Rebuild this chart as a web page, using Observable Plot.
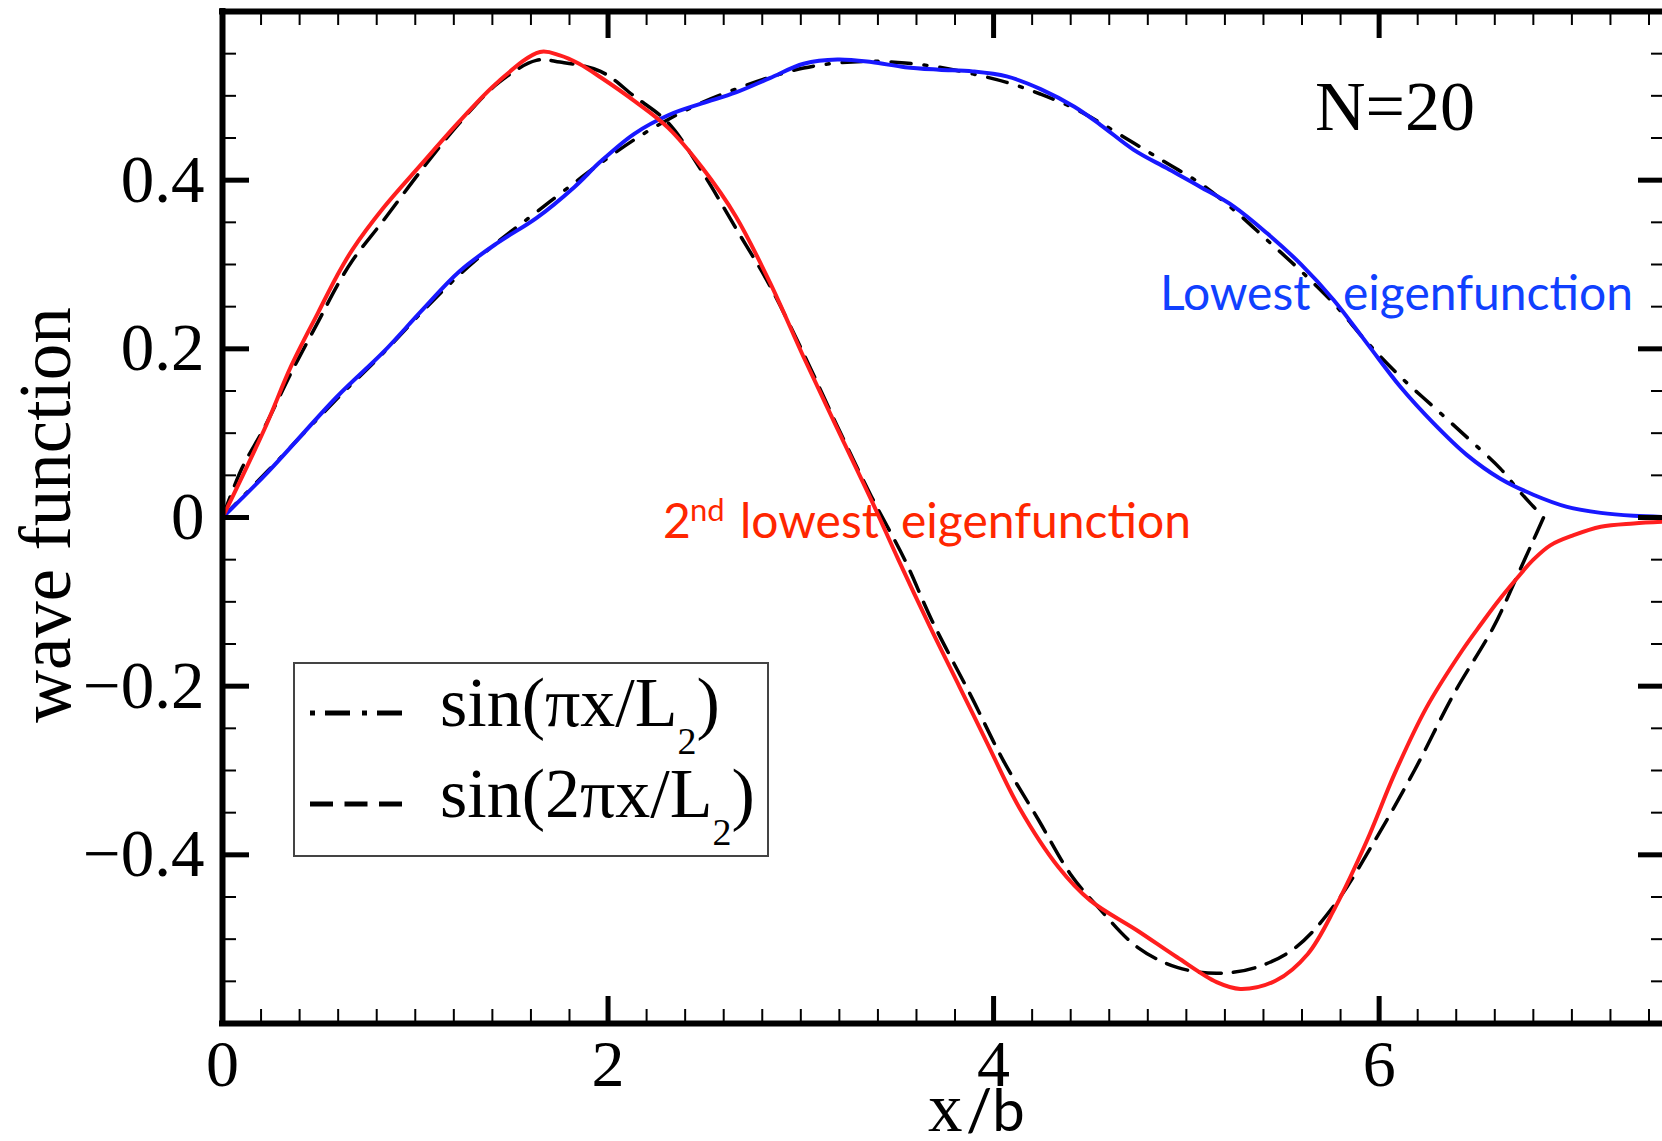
<!DOCTYPE html>
<html>
<head>
<meta charset="utf-8">
<script src="https://cdn.jsdelivr.net/npm/d3@7"></script>
<script src="https://cdn.jsdelivr.net/npm/@observablehq/plot@0.6"></script>
<style>
  html, body { margin: 0; padding: 0; background: #fff; overflow: hidden; }
  #chart svg { display: block; }
</style>
</head>
<body>
<div id="chart"></div>
<script>
// ---------- data ----------
// Lowest eigenfunction (blue)
const lowestX = [0, 0.238, 0.595, 0.834, 1.032, 1.23, 1.429, 1.628, 1.826, 1.961, 2.136, 2.312, 2.487, 2.663, 2.839, 3.015, 3.19, 3.366, 3.541, 3.717, 3.892, 4.068, 4.244, 4.419, 4.554, 4.727, 4.90, 5.073, 5.245, 5.419, 5.591, 5.764, 5.937, 6.11, 6.283, 6.456, 6.629, 6.80, 6.975, 7.15, 7.32, 7.47];
const lowestY = [0, 0.0545, 0.1435, 0.196, 0.245, 0.292, 0.326, 0.355, 0.392, 0.422, 0.455, 0.477, 0.491, 0.504, 0.521, 0.538, 0.543, 0.540, 0.534, 0.531, 0.529, 0.523, 0.508, 0.487, 0.4657, 0.436, 0.414, 0.392, 0.369, 0.337, 0.301, 0.258, 0.2065, 0.155, 0.1116, 0.074, 0.046, 0.027, 0.0126, 0.0055, 0.002, 0.0007];

// 2nd lowest eigenfunction (red)
const secondX = [0, 0.218, 0.357, 0.496, 0.595, 0.675, 0.834, 1.032, 1.23, 1.429, 1.647, 1.75, 1.85, 1.961, 2.136, 2.312, 2.488, 2.663, 2.839, 3.015, 3.19, 3.366, 3.506, 3.671, 3.824, 3.968, 4.132, 4.337, 4.501, 4.747, 4.952, 5.157, 5.28, 5.465, 5.63, 5.773, 5.937, 6.08, 6.244, 6.43, 6.53, 6.611, 6.715, 6.80, 6.888, 7.009, 7.15, 7.32, 7.47];
const secondY = [0, 0.105, 0.180, 0.243, 0.287, 0.318, 0.367, 0.419, 0.470, 0.5165, 0.552, 0.548, 0.538, 0.522, 0.494, 0.462, 0.415, 0.357, 0.279, 0.190, 0.105, 0.0206, -0.050, -0.130, -0.201, -0.268, -0.3435, -0.4147, -0.454, -0.490, -0.5215, -0.551, -0.559, -0.549, -0.5175, -0.462, -0.383, -0.304, -0.226, -0.158, -0.126, -0.101, -0.072, -0.050, -0.033, -0.021, -0.011, -0.007, -0.005];

// sin(pi x / L2) (dash-dot)
const sin1X = [0, 0.238, 0.595, 0.834, 1.032, 1.23, 1.429, 1.628, 1.826, 1.961, 2.136, 2.312, 2.487, 2.663, 2.839, 3.015, 3.19, 3.366, 3.541, 3.717, 3.892, 4.068, 4.244, 4.419, 4.554, 4.727, 4.90, 5.073, 5.245, 5.419, 5.591, 5.764, 5.937, 6.11, 6.283, 6.456, 6.629, 6.73, 6.80, 6.853];
const sin1Y = [0, 0.056, 0.141, 0.195, 0.243, 0.288, 0.327, 0.362, 0.397, 0.420, 0.448, 0.472, 0.492, 0.508, 0.522, 0.533, 0.539, 0.541, 0.539, 0.534, 0.526, 0.516, 0.502, 0.485, 0.468, 0.444, 0.420, 0.396, 0.365, 0.329, 0.293, 0.254, 0.208, 0.167, 0.131, 0.095, 0.058, 0.0305, 0.013, 0];

// sin(2 pi x / L2) (dashed)
const sin2X = [0, 0.1, 0.218, 0.357, 0.496, 0.595, 0.675, 0.834, 1.032, 1.23, 1.429, 1.628, 1.75, 1.961, 2.136, 2.312, 2.488, 2.663, 2.839, 3.015, 3.19, 3.366, 3.541, 3.68, 3.886, 4.05, 4.234, 4.398, 4.542, 4.747, 4.952, 5.157, 5.363, 5.568, 5.773, 5.978, 6.183, 6.388, 6.593, 6.715, 6.80, 6.853];
const sin2Y = [0, 0.058, 0.107, 0.172, 0.232, 0.275, 0.305, 0.352, 0.412, 0.468, 0.515, 0.542, 0.540, 0.529, 0.4995, 0.468, 0.410, 0.343, 0.275, 0.194, 0.108, 0.025, -0.051, -0.122, -0.213, -0.288, -0.359, -0.4226, -0.462, -0.5097, -0.5334, -0.5405, -0.5334, -0.5097, -0.458, -0.383, -0.300, -0.209, -0.130, -0.07, -0.027, 0];

// axes
const xTickLabels = [0, 2, 4, 6];
const yTickLabels = [-0.4, -0.2, 0, 0.2, 0.4];
const xMajorTicks = [2, 4, 6];
const yMajorTicks = [-0.4, -0.2, 0, 0.2, 0.4];
const xMinorTicks = d3.range(1, 38).map(i => +(i * 0.2).toFixed(2)).filter(v => Math.abs(v / 2 - Math.round(v / 2)) > 1e-6);
const yMinorTicks = d3.range(-11, 12).map(i => +(i * 0.05).toFixed(2)).filter(v => Math.abs(v / 0.2 - Math.round(v / 0.2)) > 1e-6);
const xDomain = [0, 7.47];
const yDomain = [-0.6, 0.6];

const texts = {
  yLabel: "wave function",
  xLabelA: "x",
  xLabelB: "/b",
  nLabel: "N=20",
  lowestA: "Lowest",
  lowestB: "eigenfunction",
  secondA: "2",
  secondSup: "nd",
  secondB: "lowest",
  secondC: "eigenfunction",
  leg1: "sin(πx/L",
  leg2: "sin(2πx/L",
  sub: "2",
  close: ")"
};

// ---------- build tables ----------
const toRows = (xs, ys) => xs.map((x, i) => ({x, y: ys[i]}));
const lowest = toRows(lowestX, lowestY);
const second = toRows(secondX, secondY);
const sin1 = toRows(sin1X, sin1Y);
const sin2 = toRows(sin2X, sin2Y);

// ---------- layout ----------
const W = 1662, H = 1141;
const mL = 222, mR = 0, mT = 11, mB = 118;
const pw = W - mL - mR, ph = H - mT - mB;
const majorLen = 27, minorLen = 14;
const serif = "'Liberation Serif', 'Times New Roman', serif";
const sans = "Lato, 'Open Sans', sans-serif";
const blue = "#1818ff", red = "#ff1e1e";

const fmtY = d => d === 0 ? "0" : (d < 0 ? "\u2212" : "") + Math.abs(d).toFixed(1);

const chart = Plot.plot({
  width: W, height: H,
  marginLeft: mL, marginRight: mR, marginTop: mT, marginBottom: mB,
  style: {fontFamily: serif, background: "white", color: "black"},
  x: {domain: xDomain},
  y: {domain: yDomain},
  marks: [
    Plot.line(sin1, {x: "x", y: "y", stroke: "black", strokeWidth: 3.5, strokeDasharray: "20,13,3,13", curve: "catmull-rom"}),
    Plot.line(sin2, {x: "x", y: "y", stroke: "black", strokeWidth: 3.5, strokeDasharray: "22,12", curve: "catmull-rom"}),
    Plot.line(lowest, {x: "x", y: "y", stroke: blue, strokeWidth: 4, curve: "catmull-rom"}),
    Plot.line(second, {x: "x", y: "y", stroke: red, strokeWidth: 4, curve: "catmull-rom"}),
    // frame (left, top, bottom); right edge is outside the picture
    Plot.ruleX([xDomain[0]], {stroke: "black", strokeWidth: 6, strokeLinecap: "square"}),
    Plot.ruleY(yDomain, {stroke: "black", strokeWidth: 6, strokeLinecap: "square"}),
    // left ticks
    Plot.tickY(yMajorTicks, {y: d => d, stroke: "black", strokeWidth: 5, insetRight: pw - majorLen}),
    Plot.tickY(yMinorTicks, {y: d => d, stroke: "black", strokeWidth: 2, insetRight: pw - minorLen}),
    // right ticks
    Plot.tickY(yMajorTicks, {y: d => d, stroke: "black", strokeWidth: 5, insetLeft: pw - majorLen + 3}),
    Plot.tickY(yMinorTicks, {y: d => d, stroke: "black", strokeWidth: 2, insetLeft: pw - minorLen + 3}),
    // bottom ticks
    Plot.tickX(xMajorTicks, {x: d => d, stroke: "black", strokeWidth: 5, insetTop: ph - majorLen}),
    Plot.tickX(xMinorTicks, {x: d => d, stroke: "black", strokeWidth: 2, insetTop: ph - minorLen}),
    // top ticks
    Plot.tickX(xMajorTicks, {x: d => d, stroke: "black", strokeWidth: 5, insetBottom: ph - majorLen}),
    Plot.tickX(xMinorTicks, {x: d => d, stroke: "black", strokeWidth: 2, insetBottom: ph - minorLen}),
    // tick labels
    Plot.axisY({anchor: "left", ticks: yTickLabels, tickSize: 0, tickPadding: 18, fontSize: 67, tickFormat: fmtY, label: null}),
    Plot.axisX({anchor: "bottom", ticks: xTickLabels, tickSize: 0, tickPadding: 16, fontSize: 66, tickFormat: d => String(d), label: null})
  ]
});

document.getElementById("chart").appendChild(chart);

// ---------- annotations and legend ----------
const svg = d3.select(chart);
const g = svg.append("g").attr("class", "annotations").attr("text-anchor", "start");

function addText(str, x, y, opts = {}) {
  const t = g.append("text")
    .attr("x", x).attr("y", y)
    .attr("font-family", opts.family || serif)
    .attr("font-size", opts.size || 66)
    .attr("fill", opts.fill || "black")
    .attr("text-anchor", opts.anchor || "start")
    .text(str);
  if (opts.transform) t.attr("transform", opts.transform).attr("x", 0).attr("y", 0);
  return t;
}

// axis titles
addText(texts.yLabel, 0, 0, {size: 73, anchor: "middle", transform: "translate(70,515) rotate(-90)"});
addText(texts.xLabelA, 928, 1131, {size: 69});
addText(texts.xLabelB, 966, 1131, {size: 58, family: sans});

// N=20
addText(texts.nLabel, 1315, 130, {size: 70});

// curve labels
addText(texts.lowestA, 1160, 310, {size: 48, family: sans, fill: "#1040ff"});
addText(texts.lowestB, 1343, 310, {size: 48, family: sans, fill: "#1040ff"});
addText(texts.secondA, 663, 538, {size: 48, family: sans, fill: "#ff2600"});
addText(texts.secondSup, 690, 521, {size: 31, family: sans, fill: "#ff2600"});
addText(texts.secondB, 740, 538, {size: 48, family: sans, fill: "#ff2600"});
addText(texts.secondC, 901, 538, {size: 48, family: sans, fill: "#ff2600"});

// legend
g.append("rect").attr("x", 294).attr("y", 663).attr("width", 474).attr("height", 193)
  .attr("fill", "white").attr("stroke", "#444").attr("stroke-width", 2);
g.append("line").attr("x1", 310).attr("x2", 402).attr("y1", 713).attr("y2", 713)
  .attr("stroke", "black").attr("stroke-width", 5).attr("stroke-dasharray", "5,10,25,12");
g.append("line").attr("x1", 310).attr("x2", 402).attr("y1", 804).attr("y2", 804)
  .attr("stroke", "black").attr("stroke-width", 5).attr("stroke-dasharray", "23,11.5");

function legendText(str, x, y) {
  const t = g.append("text").attr("x", x).attr("y", y)
    .attr("text-anchor", "start")
    .attr("font-family", serif).attr("font-size", 70).attr("fill", "black");
  t.append("tspan").text(str);
  t.append("tspan").attr("dy", 28).attr("font-size", 38).text(texts.sub);
  t.append("tspan").attr("dy", -28).attr("font-size", 70).text(texts.close);
}
legendText(texts.leg1, 440, 726);
legendText(texts.leg2, 440, 817);
</script>
</body>
</html>
